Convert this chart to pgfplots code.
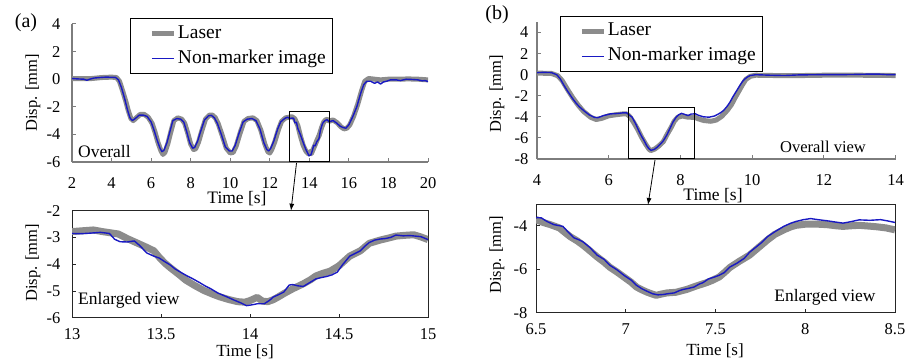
\documentclass[border=0pt]{standalone}
\usepackage{fontspec}
\setmainfont{Liberation Serif}
\usepackage{pgfplots}
\pgfplotsset{compat=1.18}
\usetikzlibrary{arrows.meta}
\definecolor{laser}{RGB}{140,140,140}
\definecolor{nmi}{RGB}{25,25,195}
\definecolor{axgray}{RGB}{125,125,125}
\newcommand\fs[1]{\fontsize{#1}{#1}\selectfont}
\pgfplotsset{
  legend image code/.code={\path (0pt,0pt); \draw[#1] (14pt,0pt) -- (36pt,0pt);},
  base/.style={scale only axis, tick align=inside, major tick length=4pt,
    tick label style={font=\fs{16.5}},
    legend style={font=\fs{19.5}, draw=black, line width=0.9pt, inner xsep=5pt, inner ysep=4pt,
      row sep=3pt, legend cell align=left,
      nodes={inner sep=1.5pt, text height=14pt, text depth=5pt}},
  },
  topax/.style={base, axis lines*=left, axis line style={axgray, line width=1.3pt},
    major tick style={axgray, line width=1pt}, xticklabel style={yshift=-12pt}},
  botax/.style={base, axis line style={black!85, line width=1pt}, xtick pos=left, ytick pos=left,
    major tick style={black!85, line width=0.8pt}, xticklabel style={yshift=-10pt, inner sep=1pt}},
  las/.style={laser, line width=5pt, line join=round},
  lasb/.style={laser, line width=7pt, line join=round},
  nm/.style={nmi, line width=1.4pt, line join=round},
}
\begin{document}
\begin{tikzpicture}
\useasboundingbox (0pt,0pt) rectangle (907pt,361pt);
% ---------------- (a) overall
\begin{axis}[topax, at={(72pt,199pt)}, anchor=south west, width=356pt, height=138pt,
  xmin=2, xmax=20, ymin=-6, ymax=4,
  xtick={2,4,...,20}, xticklabels={2,4,6,8,10,12,14,16,18,20},
  ytick={-6,-4,...,4}, yticklabels={-6,-4,-2,0,2,4},
  yticklabel style={xshift=-8pt},
  legend style={at={(0.163,1.043)}, anchor=north west}]
\addplot[las] coordinates {
(2.0,0.05)(2.5,0.05)(3.0,0.05)(3.5,0.12)(4.0,0.15)(4.25,0.12)(4.4,-0.15)(4.55,-0.8)(4.72,-1.6)(4.85,-2.3)(4.98,-2.85)(5.1,-3.0)(5.25,-2.8)(5.45,-2.55)(5.65,-2.55)(5.85,-2.75)(6.05,-3.2)(6.2,-3.85)(6.35,-4.6)(6.5,-5.2)(6.6,-5.45)(6.7,-5.3)(6.85,-4.65)(7.0,-3.8)(7.15,-3.0)(7.35,-2.8)(7.55,-2.9)(7.7,-3.2)(7.85,-3.9)(8.0,-4.7)(8.15,-5.1)(8.25,-5.05)(8.4,-4.55)(8.55,-3.8)(8.75,-2.9)(8.95,-2.6)(9.1,-2.6)(9.25,-2.8)(9.4,-3.25)(9.6,-4.1)(9.8,-5.0)(10.0,-5.35)(10.15,-5.3)(10.3,-4.85)(10.5,-3.9)(10.7,-3.05)(10.9,-2.85)(11.15,-2.8)(11.35,-3.0)(11.55,-3.7)(11.75,-4.7)(11.9,-5.25)(12.0,-5.35)(12.1,-5.1)(12.25,-4.55)(12.45,-3.6)(12.6,-3.05)(12.8,-2.8)(13.0,-2.75)(13.12,-2.72)(13.27,-2.87)(13.42,-3.37)(13.55,-4.12)(13.69,-4.8)(13.83,-5.22)(13.97,-5.42)(14.04,-5.24)(14.1,-5.4)(14.19,-5.1)(14.3,-4.73)(14.41,-4.34)(14.5,-4.06)(14.62,-3.5)(14.73,-3.1)(14.82,-2.95)(14.92,-2.9)(15.0,-3.05)(15.2,-2.95)(15.4,-3.15)(15.6,-3.45)(15.75,-3.6)(15.9,-3.55)(16.05,-3.3)(16.25,-2.65)(16.45,-1.8)(16.65,-0.8)(16.8,-0.15)(17.0,0.05)(17.3,0.0)(17.6,-0.05)(18.0,0.0)(18.5,0.0)(19.0,0.02)(19.5,0.0)(20.0,-0.05)};
\addlegendentry{Laser}
\addplot[nm] coordinates {
(2.0,0.05)(2.3,0.02)(2.6,0.0)(2.75,-0.08)(2.9,0.0)(3.1,0.08)(3.4,0.12)(3.7,0.15)(4.0,0.14)(4.2,0.13)(4.35,-0.05)(4.5,-0.6)(4.68,-1.5)(4.8,-2.2)(4.93,-2.8)(5.05,-3.0)(5.2,-2.85)(5.4,-2.6)(5.6,-2.6)(5.8,-2.7)(6.0,-3.1)(6.15,-3.7)(6.3,-4.4)(6.45,-5.0)(6.55,-5.25)(6.65,-5.15)(6.8,-4.6)(6.95,-3.8)(7.1,-3.0)(7.3,-2.85)(7.5,-2.9)(7.65,-3.1)(7.8,-3.8)(7.95,-4.6)(8.1,-5.0)(8.2,-4.95)(8.35,-4.5)(8.5,-3.8)(8.7,-2.95)(8.9,-2.65)(9.05,-2.62)(9.2,-2.8)(9.35,-3.2)(9.55,-4.0)(9.75,-4.9)(9.95,-5.2)(10.1,-5.2)(10.25,-4.8)(10.45,-3.9)(10.65,-3.1)(10.85,-2.9)(11.1,-2.85)(11.3,-3.0)(11.5,-3.6)(11.7,-4.6)(11.85,-5.1)(11.95,-5.2)(12.05,-5.0)(12.2,-4.5)(12.4,-3.6)(12.55,-3.1)(12.75,-2.85)(12.9,-2.75)(13.0,-2.85)(13.16,-2.81)(13.21,-2.85)(13.27,-3.16)(13.35,-3.13)(13.42,-3.58)(13.55,-4.02)(13.68,-4.55)(13.82,-5.08)(13.91,-5.34)(13.98,-5.55)(14.08,-5.48)(14.16,-5.14)(14.22,-4.78)(14.3,-4.83)(14.37,-4.55)(14.49,-4.3)(14.56,-3.7)(14.67,-3.19)(14.79,-3.0)(14.9,-2.93)(15.0,-3.08)(15.2,-3.0)(15.4,-3.2)(15.55,-3.4)(15.7,-3.5)(15.85,-3.55)(16.0,-3.3)(16.2,-2.7)(16.4,-2.0)(16.6,-1.0)(16.75,-0.4)(16.9,-0.15)(17.1,-0.15)(17.3,-0.3)(17.45,-0.2)(17.6,-0.35)(17.75,-0.2)(17.9,-0.15)(18.1,-0.05)(18.4,-0.05)(18.6,-0.1)(18.9,0.0)(19.2,-0.02)(19.5,-0.05)(19.7,-0.12)(19.85,-0.1)(20.0,-0.17)};
\addlegendentry{Non-marker image}
\draw[black, line width=1.1pt] (axis cs:13,-6) rectangle (axis cs:15,-2.35);
\end{axis}
% ---------------- (a) enlarged
\begin{axis}[botax, at={(72pt,43.3pt)}, anchor=south west, width=356pt, height=107pt,
  xmin=13, xmax=15, ymin=-6, ymax=-2,
  xtick={13,13.5,14,14.5,15}, xticklabels={13,13.5,14,14.5,15},
  ytick={-6,-5,-4,-3,-2}, yticklabels={-6,-5,-4,-3,-2},
  yticklabel style={xshift=-8pt}]
\addplot[lasb] coordinates {
(13.00,-2.78)(13.06,-2.75)(13.12,-2.72)(13.17,-2.78)(13.21,-2.82)(13.26,-2.87)(13.31,-3.04)(13.36,-3.19)(13.42,-3.37)(13.46,-3.50)(13.49,-3.74)(13.52,-3.95)(13.55,-4.12)(13.60,-4.38)(13.64,-4.60)(13.69,-4.80)(13.74,-4.98)(13.79,-5.12)(13.83,-5.22)(13.88,-5.32)(13.93,-5.40)(13.97,-5.42)(14.00,-5.36)(14.04,-5.24)(14.07,-5.38)(14.10,-5.40)(14.13,-5.33)(14.16,-5.22)(14.19,-5.10)(14.24,-4.92)(14.30,-4.73)(14.34,-4.58)(14.37,-4.44)(14.41,-4.34)(14.45,-4.26)(14.50,-4.06)(14.53,-3.88)(14.56,-3.70)(14.62,-3.50)(14.67,-3.22)(14.73,-3.10)(14.78,-3.02)(14.82,-2.95)(14.87,-2.92)(14.92,-2.90)(14.96,-2.98)(15.00,-3.08)};
\addplot[nm] coordinates {
(13.00,-2.85)(13.05,-2.86)(13.10,-2.84)(13.16,-2.81)(13.21,-2.85)(13.24,-3.07)(13.27,-3.16)(13.31,-3.17)(13.35,-3.13)(13.38,-3.30)(13.42,-3.58)(13.46,-3.70)(13.49,-3.77)(13.52,-3.90)(13.55,-4.02)(13.58,-4.18)(13.61,-4.30)(13.65,-4.45)(13.68,-4.55)(13.72,-4.70)(13.75,-4.82)(13.78,-4.92)(13.82,-5.08)(13.87,-5.22)(13.91,-5.34)(13.95,-5.45)(13.98,-5.55)(14.01,-5.52)(14.04,-5.48)(14.08,-5.48)(14.11,-5.35)(14.13,-5.23)(14.16,-5.14)(14.19,-5.04)(14.22,-4.78)(14.24,-4.76)(14.27,-4.81)(14.30,-4.83)(14.34,-4.67)(14.37,-4.55)(14.40,-4.50)(14.43,-4.46)(14.46,-4.40)(14.49,-4.30)(14.52,-4.02)(14.56,-3.70)(14.59,-3.60)(14.62,-3.50)(14.65,-3.30)(14.67,-3.19)(14.70,-3.10)(14.73,-3.06)(14.76,-3.04)(14.79,-3.00)(14.82,-2.91)(14.86,-2.94)(14.90,-2.93)(14.93,-2.95)(14.96,-2.97)(15.00,-3.08)};
\end{axis}
% ---------------- (b) overall
\begin{axis}[topax, at={(537pt,202pt)}, anchor=south west, width=358.7pt, height=137pt,
  xmin=4, xmax=14, ymin=-8, ymax=5,
  xtick={4,6,...,14}, xticklabels={4,6,8,10,12,14},
  ytick={-8,-6,...,4}, yticklabels={-8,-6,-4,-2,0,2,4},
  yticklabel style={xshift=-5pt},
  legend style={at={(0.064,1.044)}, anchor=north west}]
\addplot[las] coordinates {
(4.0,0.15)(4.4,0.12)(4.58,-0.1)(4.7,-0.55)(4.85,-1.4)(5.0,-2.2)(5.15,-2.9)(5.3,-3.5)(5.5,-4.05)(5.65,-4.25)(5.8,-4.15)(6.0,-3.9)(6.2,-3.8)(6.4,-3.72)(6.5,-3.72)(6.58,-3.95)(6.69,-4.5)(6.8,-5.15)(6.91,-5.9)(7.03,-6.6)(7.12,-7.06)(7.17,-7.2)(7.28,-7.06)(7.39,-6.78)(7.52,-6.36)(7.63,-5.65)(7.74,-5.0)(7.83,-4.4)(7.92,-4.05)(8.05,-3.92)(8.21,-4.03)(8.4,-4.05)(8.5,-4.19)(8.65,-4.35)(8.85,-4.42)(9.0,-4.3)(9.15,-3.95)(9.3,-3.4)(9.42,-2.85)(9.52,-2.2)(9.62,-1.6)(9.72,-1.0)(9.82,-0.45)(9.95,-0.15)(10.1,-0.05)(11,-0.1)(12,-0.05)(13,-0.05)(14,-0.08)};
\addlegendentry{Laser}
\addplot[nm] coordinates {
(4.0,0.2)(4.2,0.22)(4.4,0.2)(4.55,0.0)(4.65,-0.4)(4.75,-1.0)(4.85,-1.55)(5.0,-2.3)(5.1,-2.75)(5.2,-3.1)(5.3,-3.4)(5.45,-3.8)(5.6,-4.05)(5.7,-4.08)(5.85,-3.88)(6.05,-3.72)(6.25,-3.68)(6.4,-3.62)(6.5,-3.62)(6.56,-3.8)(6.65,-4.03)(6.76,-4.73)(6.84,-5.35)(6.91,-5.81)(6.99,-6.28)(7.06,-6.74)(7.12,-7.02)(7.18,-7.18)(7.27,-7.09)(7.35,-6.88)(7.43,-6.62)(7.52,-6.28)(7.62,-5.72)(7.69,-5.22)(7.79,-4.5)(7.88,-4.03)(7.95,-3.8)(8.03,-3.67)(8.12,-3.77)(8.21,-3.88)(8.3,-3.73)(8.42,-3.72)(8.5,-3.85)(8.64,-4.0)(8.8,-4.03)(8.95,-3.92)(9.1,-3.65)(9.2,-3.4)(9.3,-3.0)(9.38,-2.6)(9.47,-2.05)(9.57,-1.5)(9.66,-1.0)(9.75,-0.55)(9.85,-0.25)(9.94,-0.08)(10.1,0.0)(10.5,-0.05)(10.9,-0.08)(11.3,-0.02)(11.8,0.0)(12.3,0.0)(12.8,0.02)(13.2,0.05)(13.5,0.06)(13.8,0.0)(14.0,0.0)};
\addlegendentry{Non-marker image}
\draw[black, line width=1.1pt] (axis cs:6.55,-8) rectangle (axis cs:8.4,-3.1);
\end{axis}
% ---------------- (b) enlarged
\begin{axis}[botax, at={(536pt,48.3pt)}, anchor=south west, width=359pt, height=108.7pt,
  xmin=6.5, xmax=8.5, ymin=-8, ymax=-3,
  xtick={6.5,7,7.5,8,8.5}, xticklabels={6.5,7,7.5,8,8.5},
  ytick={-8,-6,-4}, yticklabels={-8,-6,-4},
  yticklabel style={xshift=-5pt}]
\addplot[lasb] coordinates {
(6.50,-3.72)(6.54,-3.85)(6.58,-3.95)(6.63,-4.10)(6.66,-4.30)(6.69,-4.50)(6.73,-4.70)(6.76,-4.88)(6.80,-5.15)(6.84,-5.43)(6.88,-5.68)(6.91,-5.90)(6.95,-6.12)(6.99,-6.36)(7.03,-6.60)(7.06,-6.82)(7.09,-6.95)(7.12,-7.06)(7.15,-7.15)(7.17,-7.20)(7.20,-7.14)(7.23,-7.09)(7.28,-7.06)(7.34,-6.93)(7.39,-6.78)(7.45,-6.62)(7.48,-6.52)(7.52,-6.36)(7.55,-6.15)(7.58,-5.92)(7.63,-5.65)(7.69,-5.35)(7.74,-5.00)(7.79,-4.65)(7.83,-4.40)(7.88,-4.19)(7.92,-4.05)(7.95,-3.98)(8.00,-3.93)(8.05,-3.92)(8.12,-3.95)(8.17,-4.00)(8.21,-4.03)(8.26,-4.00)(8.30,-3.98)(8.36,-4.02)(8.40,-4.05)(8.45,-4.10)(8.50,-4.19)};
\addplot[nm] coordinates {
(6.50,-3.62)(6.53,-3.64)(6.56,-3.80)(6.60,-3.95)(6.65,-4.03)(6.68,-4.30)(6.71,-4.55)(6.74,-4.65)(6.76,-4.73)(6.80,-5.00)(6.84,-5.35)(6.88,-5.55)(6.91,-5.81)(6.95,-6.02)(6.99,-6.28)(7.03,-6.50)(7.06,-6.74)(7.09,-6.90)(7.12,-7.02)(7.15,-7.13)(7.18,-7.18)(7.21,-7.16)(7.24,-7.12)(7.27,-7.09)(7.30,-6.98)(7.32,-6.93)(7.35,-6.88)(7.38,-6.82)(7.41,-6.68)(7.43,-6.62)(7.46,-6.45)(7.49,-6.37)(7.52,-6.28)(7.55,-6.15)(7.58,-5.90)(7.62,-5.72)(7.66,-5.50)(7.69,-5.22)(7.72,-5.02)(7.76,-4.75)(7.79,-4.50)(7.83,-4.28)(7.88,-4.03)(7.92,-3.88)(7.95,-3.80)(7.99,-3.72)(8.03,-3.67)(8.07,-3.72)(8.12,-3.77)(8.16,-3.82)(8.21,-3.88)(8.25,-3.82)(8.30,-3.73)(8.36,-3.75)(8.42,-3.72)(8.46,-3.78)(8.50,-3.85)};
\end{axis}
% ---------------- labels and annotations
\node[font=\fs{20}] at (26pt,338pt) {(a)};
\node[font=\fs{20}] at (497pt,346pt) {(b)};
\node[font=\fs{16.5}, rotate=90] at (33pt,268pt) {Disp. [mm]};
\node[font=\fs{16.5}, rotate=90] at (33pt,98pt) {Disp. [mm]};
\node[font=\fs{16.5}, rotate=90] at (497pt,267pt) {Disp. [mm]};
\node[font=\fs{16.5}, rotate=90] at (497pt,106pt) {Disp. [mm]};
\node[font=\fs{17.5}] at (237pt,162pt) {Time [s]};
\node[font=\fs{17.5}] at (713pt,165pt) {Time [s]};
\node[font=\fs{17}, inner sep=0.5pt] at (245pt,9pt) {Time [s]};
\node[font=\fs{17}, inner sep=0.5pt] at (715pt,10.5pt) {Time [s]};
\node[font=\fs{17.5}, anchor=west, inner sep=0pt] at (78pt,209pt) {Overall};
\node[font=\fs{16.5}] at (823pt,214pt) {Overall view};
\node[font=\fs{17.5}, anchor=west, inner sep=0pt] at (78pt,61pt) {Enlarged view};
\node[font=\fs{17.5}] at (825pt,64pt) {Enlarged view};
\draw[black, line width=0.8pt, -{Latex[length=7pt,width=5pt]}] (296.5pt,198pt) -- (291pt,150.3pt);
\draw[black, line width=0.8pt, -{Latex[length=7pt,width=5pt]}] (655pt,201pt) -- (648pt,156pt);
\end{tikzpicture}
\end{document}
